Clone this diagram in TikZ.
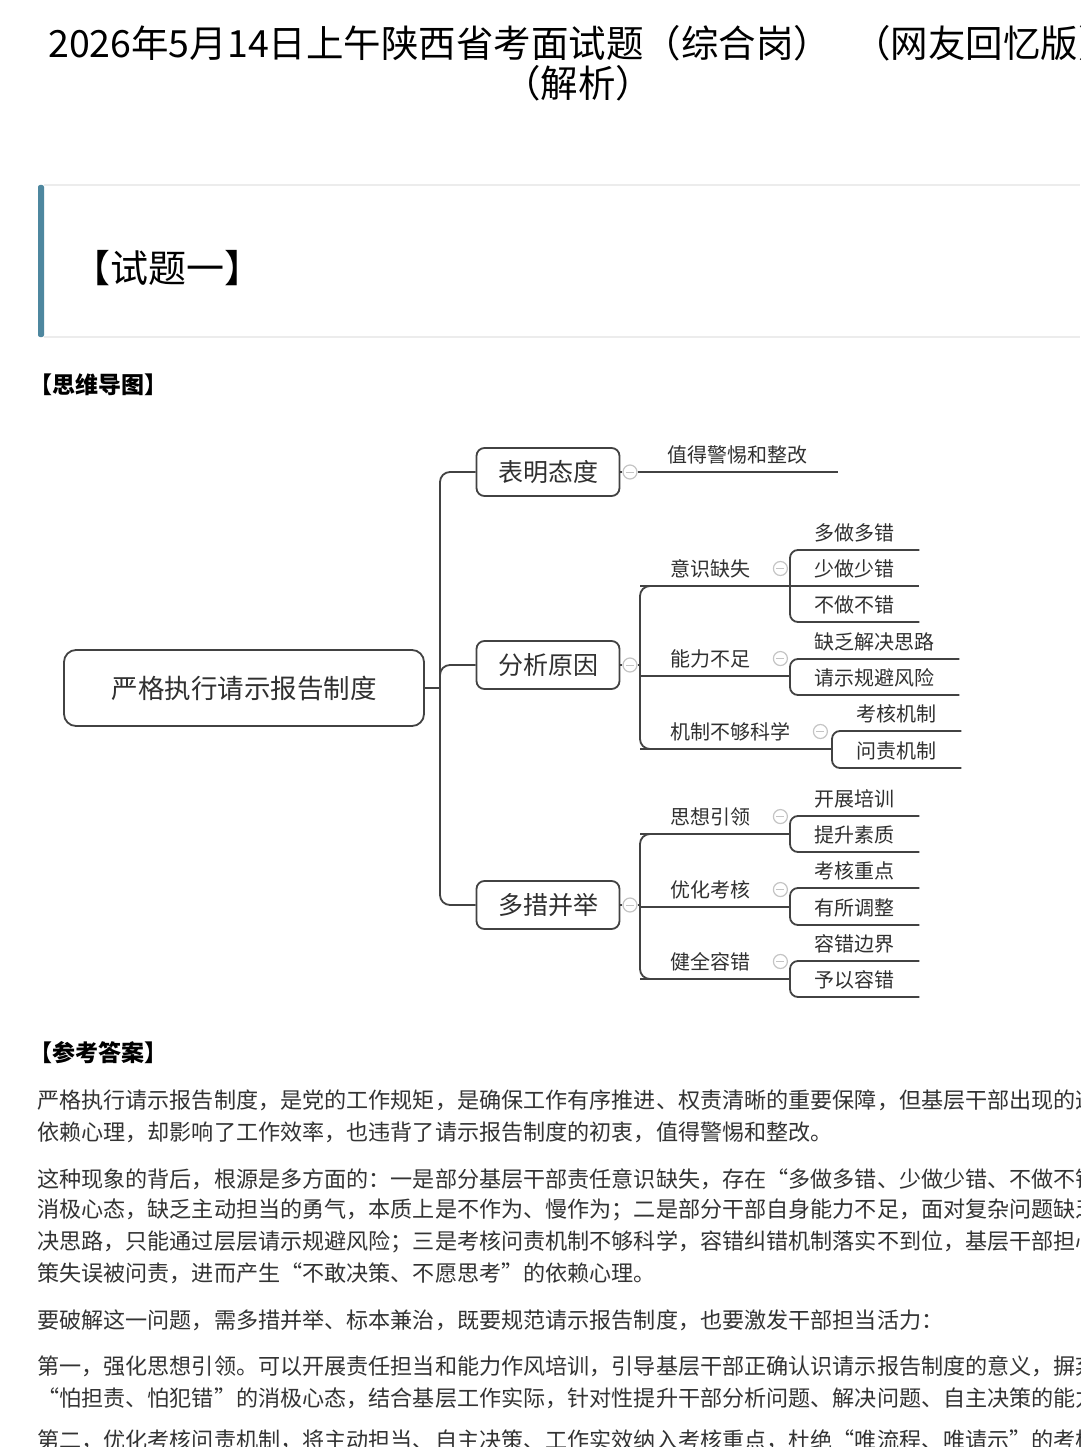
\documentclass[tikz,border=0pt]{standalone}
\usepackage{fontspec}
\setmainfont{Noto Sans CJK SC}
\usetikzlibrary{positioning,calc}

\definecolor{mapline}{HTML}{424242}
\definecolor{maptext}{HTML}{303030}
\definecolor{bodytext}{HTML}{333333}
\definecolor{foldgray}{HTML}{C4C4C4}
\definecolor{accent}{HTML}{4E879F}
\definecolor{paneledge}{HTML}{ECECEC}

\tikzset{
	titletext/.style={inner sep=0pt, font=\fontsize{37.5}{40}\selectfont, text=black},
	paneltext/.style={anchor=west, inner sep=0pt, font=\fontsize{38}{40}\selectfont, text=black},
	headtext/.style={anchor=west, inner sep=0pt, font=\bfseries\fontsize{23}{26}\selectfont, text=black},
	bodyline/.style={anchor=west, inner sep=0pt, font=\fontsize{22.1}{26}\selectfont, text=bodytext},
	rootbox/.style={draw=mapline, line width=1.8pt, rounded corners=12pt, minimum width=360pt,
		minimum height=76pt, font=\fontsize{26.5}{30}\selectfont, text=maptext},
	topicbox/.style={draw=mapline, line width=1.8pt, rounded corners=8pt, minimum width=143pt,
		minimum height=48pt, font=\fontsize{25}{28}\selectfont, text=maptext},
	branch/.style={anchor=south west, inner xsep=30pt, inner ysep=8pt,
		font=\fontsize{20}{24}\selectfont, text=maptext},
	leaf/.style={anchor=south west, inner xsep=24.5pt, inner ysep=8pt,
		font=\fontsize{20}{24}\selectfont, text=maptext},
	fold/.style={circle, draw=foldgray, fill=white, line width=1.2pt, minimum size=14pt, inner sep=0pt,
		path picture={\draw[foldgray, line width=1pt]
			([xshift=-4pt]path picture bounding box.center) -- ([xshift=4pt]path picture bounding box.center);}},
	mapedge/.style={draw=mapline, line width=1.8pt},
}

\begin{document}
\begin{tikzpicture}[x=1pt, y=-1pt]

		% === page bounds ===
		\def\pagew{1080}	\def\pageh{1447}
		\useasboundingbox (0,0) rectangle (\pagew,\pageh);
		\clip (0,0) rectangle (\pagew,\pageh);
		\fill[white] (0,0) rectangle (\pagew,\pageh);

		% === Title ===
		\node[titletext, anchor=west] (title) at (48,43) {2026年5月14日上午陕西省考面试题（综合岗）\hspace{22pt}（网友回忆版）};
		\node[titletext] (subtitle) at (578,83) {（解析）};

		% === Question panel ===
		\draw[paneledge, line width=1.2pt] (44,185) -- (\pagew,185);
		\draw[paneledge, line width=1.2pt] (44,337) -- (\pagew,337);
		\fill[accent, rounded corners=2pt] (38,185) rectangle (44,337);
		\node[paneltext] (question) at (72,268) {【试题一】};

		% === Section heads ===
		\node[headtext] (maphead) at (29,385) {【思维导图】};
		\node[headtext] (answerhead) at (29,1053) {【参考答案】};

		% === Mind map: root and topics ===
		\node[rootbox] (root) at (244,688) {严格执行请示报告制度};
		\node[topicbox] (attitude) at (548,472) {表明态度};
		\node[topicbox] (cause) at (548,665) {分析原因};
		\node[topicbox] (measure) at (548,905) {多措并举};
		\coordinate (rootjoin) at (440,688);

		\draw[mapedge] (root.east) -- (rootjoin);
		\draw[mapedge, rounded corners=10pt] (attitude.west) -| (rootjoin) |- (measure.west);
		\draw[mapedge, rounded corners=10pt] (rootjoin) |- (cause.west);

		\node[fold] (attitudefold) at (630,472) {};
		\node[fold] (causefold) at (630,665) {};
		\node[fold] (measurefold) at (630,905) {};
		\draw[mapedge] (attitude.east) -- (attitudefold.west);
		\draw[mapedge] (cause.east) -- (causefold.west);
		\draw[mapedge] (measure.east) -- (measurefold.west);

		% === Attitude ===
		\node[leaf, inner xsep=30pt] (alert) at (attitudefold.east) {值得警惕和整改};
		\draw[mapedge] (alert.south west) -- (alert.south east);

		% === Causes ===
		\node[branch] (aware) at (640,586) {意识缺失};
		\node[branch] (ability) at (640,676) {能力不足};
		\node[branch] (mechanism) at (640,749) {机制不够科学};
		\draw[mapedge] (causefold.east) -- (causefold.east -| aware.south west);
		\draw[mapedge, rounded corners=10pt] (aware.south) -- (aware.south west)
			-- (mechanism.south west) -- (mechanism.south);

		\foreach \txt/\y [count=\i] in {多做多错/550, 少做少错/586, 不做不错/622}
			\node[leaf] (aware\i) at (790,\y) {\txt};
		\draw[mapedge, rounded corners=8pt] (aware1.south east) -- (aware1.south west)
			-- (aware3.south west) -- (aware3.south east);
		\draw[mapedge] (aware2.south west) -- (aware2.south east);
		\draw[mapedge] (aware.south west) -- (aware2.south west);
		\node[fold] (foldaware) at (aware.east) {};

		% === Measures ===
		\node[branch] (thought) at (640,834) {思想引领};
		\node[branch] (assess) at (640,907) {优化考核};
		\node[branch] (tolerance) at (640,979) {健全容错};
		\draw[mapedge] (measurefold.east) -- (measurefold.east -| assess.south west);
		\draw[mapedge, rounded corners=10pt] (thought.south) -- (thought.south west)
			-- (tolerance.south west) -- (tolerance.south);

		% === two-leaf groups ===
		\foreach \grp/\sx/\ya/\yb/\ta/\tb in {
				ability/790/659/695/缺乏解决思路/请示规避风险,
				mechanism/832/731/768/考核机制/问责机制,
				thought/790/816/852/开展培训/提升素质,
				assess/790/888/925/考核重点/有所调整,
				tolerance/790/961/997/容错边界/予以容错} {
			\node[leaf] (\grp1) at (\sx,\ya) {\ta};
			\node[leaf] (\grp2) at (\sx,\yb) {\tb};
			\draw[mapedge, rounded corners=8pt] (\grp1.south east) -- (\grp1.south west)
				-- (\grp2.south west) -- (\grp2.south east);
			\draw[mapedge] (\grp.south west) -- (\grp.south west -| \grp1.south west);
			\node[fold] (fold\grp) at (\grp.east) {};
		}

		% === Answer text ===
		\foreach \y/\ln [count=\i] in {
				1100/{严格执行请示报告制度，是党的工作规矩，是确保工作有序推进、权责清晰的重要保障，但基层干部出现的这},
				1132/{依赖心理，却影响了工作效率，也违背了请示报告制度的初衷，值得警惕和整改。},
				1179/{这种现象的背后，根源是多方面的：一是部分基层干部责任意识缺失，存在“多做多错、少做少错、不做不错”},
				1210/{消极心态，缺乏主动担当的勇气，本质上是不作为、慢作为；二是部分干部自身能力不足，面对复杂问题缺乏},
				1242/{决思路，只能通过层层请示规避风险；三是考核问责机制不够科学，容错纠错机制落实不到位，基层干部担心},
				1273/{策失误被问责，进而产生“不敢决策、不愿思考”的依赖心理。},
				1320/{要破解这一问题，需多措并举、标本兼治，既要规范请示报告制度，也要激发干部担当活力：},
				1366/{第一，强化思想引领。可以开展责任担当和能力作风培训，引导基层干部正确认识请示报告制度的意义，摒弃},
				1398/{“怕担责、怕犯错”的消极心态，结合基层工作实际，针对性提升干部分析问题、解决问题、自主决策的能力。},
				1440/{第二，优化考核问责机制，将主动担当、自主决策、工作实效纳入考核重点，杜绝“唯流程、唯请示”的考核导}} {
			\node[bodyline] (ans\i) at (37,\y) {\ln};
		}
	\end{tikzpicture}
\end{document}
